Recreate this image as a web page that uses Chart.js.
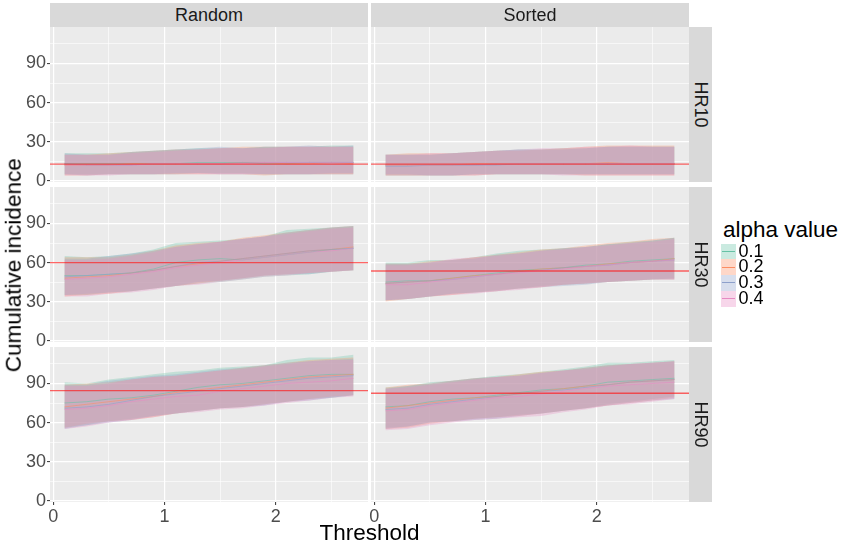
<!DOCTYPE html>
<html><head><meta charset="utf-8">
<script src="https://cdn.jsdelivr.net/npm/chart.js@4.4.1/dist/chart.umd.min.js"></script>
<style>
html,body{margin:0;padding:0;background:#fff;}
body{width:847px;height:550px;overflow:hidden;position:relative;font-family:"Liberation Sans",Arial,Helvetica,sans-serif;}
.box{position:absolute;}
.strip{position:absolute;background:#D9D9D9;color:#1A1A1A;font-size:18px;display:flex;align-items:center;justify-content:center;overflow:hidden;}
.vtxt{transform:rotate(90deg);white-space:nowrap;}
.title{position:absolute;color:#000;font-size:22.5px;white-space:nowrap;line-height:1;}
.key{position:absolute;left:721px;width:15px;height:15.8px;background:#fff;}
.keyfill{position:absolute;left:0;top:0;right:0;bottom:0;}
.keyline{position:absolute;left:1px;right:1px;top:7.4px;height:1px;}
.klab{position:absolute;left:738.5px;font-size:18px;color:#000;height:15.8px;line-height:15.8px;}
</style></head><body>
<script>
// ---------------- DATA ----------------
const thresholds = [0.1,0.3,0.5,0.7,0.9,1.1,1.3,1.5,1.7,1.9,2.1,2.3,2.5,2.7];
const alphaLabels = ['0.1','0.2','0.3','0.4'];
const colLabels = ['Random','Sorted'];
const rowLabels = ['HR10','HR30','HR90'];
const xMajor = [0,1,2];
const xMinor = [0.5,1.5,2.5];
const yMajor = [0,30,60,90];
const yMinor = [15,45,75,105];
const hlineValues = [12.8, 12.8, 60, 53.5, 84.5, 82.5]; // rand10, sort10, rand30, sort30, rand90, sort90

// Random HR10
const rand10_a1_hi  = [21,21,21,22,23,24,25,25,25,26,26,26,27,27];
const rand10_a1_mid = [13,13,13,13,13,13,14,14,14,13,13,14,14,14];
const rand10_a1_lo  = [5,5,5,5,5,5,6,6,6,5,5,5,5,5];
const rand10_a2_hi  = [20,20,21,22,23,24,24,25,26,26,26,26,26,26];
const rand10_a2_mid = [12,12,12,13,13,13,13,13,14,14,13,13,14,13];
const rand10_a2_lo  = [4,4,5,5,5,5,5,5,5,4,5,5,5,5];
const rand10_a3_hi  = [21,20,20,22,23,24,25,26,25,26,26,27,26,27];
const rand10_a3_mid = [13,12,12,12,13,13,13,13,14,14,14,14,14,14];
const rand10_a3_lo  = [5,4,5,5,5,6,6,5,5,5,5,5,6,6];
const rand10_a4_hi  = [20,20,20,21,22,23,24,25,25,25,26,26,26,26];
const rand10_a4_mid = [12,12,12,12,13,13,13,13,13,14,14,14,14,14];
const rand10_a4_lo  = [4,4,4,5,5,5,5,5,5,5,5,5,5,5];
// Sorted HR10
const sort10_a1_hi  = [20,20,20,21,22,23,24,24,25,25,26,26,26,26];
const sort10_a1_mid = [12,12,12,12,12,13,13,13,13,13,13,13,13,13];
const sort10_a1_lo  = [4,4,4,4,5,5,5,5,5,5,5,5,5,5];
const sort10_a2_hi  = [20,21,21,21,22,23,23,24,25,26,27,27,27,27];
const sort10_a2_mid = [12,12,12,12,13,13,13,13,13,13,14,13,13,13];
const sort10_a2_lo  = [4,4,4,4,4,5,5,5,5,4,4,4,4,4];
const sort10_a3_hi  = [20,20,20,21,22,23,24,24,24,25,26,26,26,26];
const sort10_a3_mid = [11,11,12,12,12,12,13,13,13,13,13,13,13,13];
const sort10_a3_lo  = [5,5,4,4,5,5,5,5,5,5,5,5,5,5];
const sort10_a4_hi  = [20,20,21,21,22,23,24,25,25,26,26,27,26,26];
const sort10_a4_mid = [12,12,12,12,12,13,13,13,13,13,13,13,13,13];
const sort10_a4_lo  = [4,4,4,4,4,5,5,5,4,4,4,4,4,4];
// Random HR30
const rand30_a1_hi  = [65,64,65,67,70,75,76,77,78,80,85,86,87,88];
const rand30_a1_mid = [50,50,51,52,55,60,62,63,62,64,66,68,70,71];
const rand30_a1_lo  = [35,35,37,38,40,42,44,45,47,49,50,51,53,54];
const rand30_a2_hi  = [64,64,64,66,69,73,75,76,79,81,83,85,87,88];
const rand30_a2_mid = [48,49,50,52,54,57,59,61,63,65,67,69,70,72];
const rand30_a2_lo  = [34,35,36,38,40,42,44,46,48,50,51,52,53,54];
const rand30_a3_hi  = [63,63,65,67,69,72,74,76,78,80,83,85,87,88];
const rand30_a3_mid = [49,50,51,52,54,57,60,61,63,65,67,69,70,71];
const rand30_a3_lo  = [35,36,37,38,40,42,45,46,48,50,51,51,53,54];
const rand30_a4_hi  = [62,62,63,65,68,72,74,76,78,80,82,84,86,87];
const rand30_a4_mid = [47,48,49,51,53,56,58,60,62,64,66,68,69,71];
const rand30_a4_lo  = [34,34,36,37,39,42,43,45,47,49,50,52,53,54];
// Sorted HR30
const sort30_a1_hi  = [60,60,62,62,64,67,69,70,71,72,74,76,77,79];
const sort30_a1_mid = [45,46,46,48,50,52,54,55,56,58,59,61,62,63];
const sort30_a1_lo  = [31,32,34,36,37,39,40,42,43,44,45,46,47,48];
const sort30_a2_hi  = [59,59,61,62,64,66,68,70,71,73,75,76,78,79];
const sort30_a2_mid = [44,45,46,48,50,51,53,55,56,57,59,60,61,63];
const sort30_a2_lo  = [30,32,34,35,37,38,40,41,43,44,45,46,47,47];
const sort30_a3_hi  = [59,59,60,62,63,66,67,69,71,72,74,75,77,79];
const sort30_a3_mid = [44,45,46,47,49,51,53,54,56,57,58,60,61,62];
const sort30_a3_lo  = [31,32,34,36,37,38,40,41,42,43,45,46,47,47];
const sort30_a4_hi  = [58,58,60,63,64,65,67,69,70,72,73,75,76,78];
const sort30_a4_mid = [43,43,45,47,49,51,52,54,55,57,58,60,61,62];
const sort30_a4_lo  = [31,32,34,35,36,38,39,41,43,44,45,46,47,47];
// Random HR90
const rand90_a1_hi  = [91,90,93,95,97,99,100,102,103,104,108,110,110,112];
const rand90_a1_mid = [75,76,78,79,81,84,87,89,90,92,94,96,97,97];
const rand90_a1_lo  = [56,58,61,63,65,67,69,71,72,74,76,78,79,81];
const rand90_a2_hi  = [89,90,91,93,95,96,98,100,102,104,106,108,109,110];
const rand90_a2_mid = [72,74,76,78,80,83,85,87,89,91,93,95,96,97];
const rand90_a2_lo  = [56,59,61,62,64,67,69,71,72,74,76,78,80,81];
const rand90_a3_hi  = [89,89,92,94,96,97,99,101,102,104,106,107,108,109];
const rand90_a3_mid = [71,72,74,77,80,82,84,86,88,90,92,94,95,96];
const rand90_a3_lo  = [55,58,60,62,65,67,69,71,72,73,76,77,79,81];
const rand90_a4_hi  = [88,88,90,93,95,96,98,100,101,103,105,107,108,108];
const rand90_a4_mid = [70,71,73,76,78,80,81,84,86,88,90,91,92,94];
const rand90_a4_lo  = [55,57,60,62,64,67,68,70,71,73,75,77,79,80];
// Sorted HR90
const sort90_a1_hi  = [87,88,91,92,94,96,97,99,101,103,106,106,107,108];
const sort90_a1_mid = [72,73,76,78,79,81,83,85,86,88,91,92,93,94];
const sort90_a1_lo  = [56,57,60,61,63,64,66,67,69,71,74,76,78,80];
const sort90_a2_hi  = [87,89,90,92,94,95,97,99,100,102,104,105,106,107];
const sort90_a2_mid = [71,73,75,77,79,80,82,84,86,88,89,91,92,93];
const sort90_a2_lo  = [55,56,59,61,63,64,65,67,69,71,73,75,77,79];
const sort90_a3_hi  = [86,88,90,92,94,95,96,98,100,102,104,105,106,107];
const sort90_a3_mid = [70,71,74,76,78,80,82,84,85,87,89,91,92,93];
const sort90_a3_lo  = [55,57,60,61,62,63,65,67,69,71,73,75,77,78];
const sort90_a4_hi  = [86,87,89,91,93,95,96,98,100,101,103,105,106,107];
const sort90_a4_mid = [69,70,73,75,77,79,80,82,84,86,88,89,90,91];
const sort90_a4_lo  = [54,55,58,60,62,63,64,65,68,70,73,74,76,78];

// ---------------- ASSEMBLY ----------------
const seriesColors = ['#66C2A5','#FC8D62','#8DA0CB','#E78AC3'];
const panelData = [
  [ // row HR10
    [[rand10_a1_lo,rand10_a1_mid,rand10_a1_hi],[rand10_a2_lo,rand10_a2_mid,rand10_a2_hi],[rand10_a3_lo,rand10_a3_mid,rand10_a3_hi],[rand10_a4_lo,rand10_a4_mid,rand10_a4_hi]],
    [[sort10_a1_lo,sort10_a1_mid,sort10_a1_hi],[sort10_a2_lo,sort10_a2_mid,sort10_a2_hi],[sort10_a3_lo,sort10_a3_mid,sort10_a3_hi],[sort10_a4_lo,sort10_a4_mid,sort10_a4_hi]]
  ],
  [ // row HR30
    [[rand30_a1_lo,rand30_a1_mid,rand30_a1_hi],[rand30_a2_lo,rand30_a2_mid,rand30_a2_hi],[rand30_a3_lo,rand30_a3_mid,rand30_a3_hi],[rand30_a4_lo,rand30_a4_mid,rand30_a4_hi]],
    [[sort30_a1_lo,sort30_a1_mid,sort30_a1_hi],[sort30_a2_lo,sort30_a2_mid,sort30_a2_hi],[sort30_a3_lo,sort30_a3_mid,sort30_a3_hi],[sort30_a4_lo,sort30_a4_mid,sort30_a4_hi]]
  ],
  [ // row HR90
    [[rand90_a1_lo,rand90_a1_mid,rand90_a1_hi],[rand90_a2_lo,rand90_a2_mid,rand90_a2_hi],[rand90_a3_lo,rand90_a3_mid,rand90_a3_hi],[rand90_a4_lo,rand90_a4_mid,rand90_a4_hi]],
    [[sort90_a1_lo,sort90_a1_mid,sort90_a1_hi],[sort90_a2_lo,sort90_a2_mid,sort90_a2_hi],[sort90_a3_lo,sort90_a3_mid,sort90_a3_hi],[sort90_a4_lo,sort90_a4_mid,sort90_a4_hi]]
  ]
];

function rgba(hex, a){
  const n = parseInt(hex.slice(1),16);
  return 'rgba('+((n>>16)&255)+','+((n>>8)&255)+','+(n&255)+','+a+')';
}
const FONT = '"Liberation Sans", Arial, Helvetica, sans-serif';
const X_MIN = -0.03, X_MAX = 2.83, Y_MIN = -1, Y_MAX = 118;
const PANEL_X = [50, 371], PANEL_W = 318;
const PANEL_Y = [27, 187, 347], PANEL_H = 155;
const M = 12, Y_AXIS_W = 50, X_AXIS_H = 26;

const bgPlugin = {
  id:'panelBg',
  beforeDraw(chart){
    const {ctx, chartArea:a} = chart;
    ctx.save(); ctx.fillStyle = '#EBEBEB';
    ctx.fillRect(a.left, a.top, a.right-a.left, a.bottom-a.top);
    ctx.restore();
  }
};

function pts(arr){ return thresholds.map((x,i)=>({x:x, y:arr[i]})); }

function addPanel(r, c){
  const yW = c===0 ? Y_AXIS_W : 0;
  const xH = r===2 ? X_AXIS_H : 0;
  const div = document.createElement('div');
  div.className = 'box';
  div.style.left = (PANEL_X[c] - M - yW) + 'px';
  div.style.top = (PANEL_Y[r] - M) + 'px';
  div.style.width = (PANEL_W + 2*M + yW) + 'px';
  div.style.height = (PANEL_H + 2*M + xH) + 'px';
  const cv = document.createElement('canvas');
  div.appendChild(cv);
  document.body.appendChild(div);

  const series = panelData[r][c];
  const hv = hlineValues[r*2 + c];
  const datasets = [];
  // reference line on top
  datasets.push({data:[{x:X_MIN,y:hv},{x:X_MAX,y:hv}], borderColor:'rgba(255,20,20,0.65)', borderWidth:1.3, pointRadius:0, fill:false, order:0});
  // mean lines
  series.forEach((s,i)=>{
    datasets.push({data:pts(s[1]), borderColor:rgba(seriesColors[i],0.55), borderWidth:1, pointRadius:0, fill:false, order:1+(3-i)});
  });
  // ribbons
  series.forEach((s,i)=>{
    datasets.push({data:pts(s[2]), borderWidth:0, borderColor:'rgba(0,0,0,0)', pointRadius:0, fill:'+1', backgroundColor:rgba(seriesColors[i],0.3), order:10+(3-i)});
    datasets.push({data:pts(s[0]), borderWidth:0, borderColor:'rgba(0,0,0,0)', pointRadius:0, fill:false, order:10+(3-i)});
  });

  const isMajX = v => xMajor.some(m=>Math.abs(m-v)<1e-9);
  const isMajY = v => yMajor.some(m=>Math.abs(m-v)<1e-9);

  new Chart(cv, {
    type:'line',
    data:{datasets},
    plugins:[bgPlugin],
    options:{
      responsive:true, maintainAspectRatio:false, animation:false,
      layout:{padding:{left:M,right:M,top:M,bottom:M}},
      plugins:{legend:{display:false}, tooltip:{enabled:false}},
      elements:{line:{tension:0}},
      scales:{
        x:{
          type:'linear', min:X_MIN, max:X_MAX,
          afterBuildTicks: s => { s.ticks = xMajor.concat(xMinor).sort((a,b)=>a-b).map(v=>({value:v})); },
          afterFit: s => { s.height = xH; },
          border:{display:false},
          grid:{color:'#FFFFFF', lineWidth: ctx => isMajX(ctx.tick.value) ? 1.2 : 0.6,
                drawTicks: r===2, tickLength:3, tickWidth:1,
                tickColor: ctx => isMajX(ctx.tick.value) ? '#333333' : 'rgba(0,0,0,0)'},
          ticks:{display: r===2, autoSkip:false, maxRotation:0, padding:1, color:'#4D4D4D',
                 font:{size:18, family:FONT},
                 callback: v => isMajX(v) ? String(v) : ''}
        },
        y:{
          type:'linear', min:Y_MIN, max:Y_MAX,
          afterBuildTicks: s => { s.ticks = yMajor.concat(yMinor).sort((a,b)=>a-b).map(v=>({value:v})); },
          afterFit: s => { s.width = yW; },
          border:{display:false},
          grid:{color:'#FFFFFF', lineWidth: ctx => isMajY(ctx.tick.value) ? 1.2 : 0.6,
                drawTicks: c===0, tickLength:3, tickWidth:1,
                tickColor: ctx => isMajY(ctx.tick.value) ? '#333333' : 'rgba(0,0,0,0)'},
          ticks:{display: c===0, autoSkip:false, padding:1, color:'#4D4D4D',
                 font:{size:18, family:FONT},
                 callback: v => isMajY(v) ? String(v) : ''}
        }
      }
    }
  });
}

for (let r=0;r<3;r++) for (let c=0;c<2;c++) addPanel(r,c);

// strips
colLabels.forEach((t,c)=>{
  const d = document.createElement('div'); d.className='strip';
  d.style.left = PANEL_X[c]+'px'; d.style.top='3px'; d.style.width=PANEL_W+'px'; d.style.height='24px';
  d.textContent = t; document.body.appendChild(d);
});
rowLabels.forEach((t,r)=>{
  const d = document.createElement('div'); d.className='strip';
  d.style.left = (PANEL_X[1]+PANEL_W)+'px'; d.style.top=PANEL_Y[r]+'px'; d.style.width='23px'; d.style.height=PANEL_H+'px';
  const s = document.createElement('span'); s.className='vtxt'; s.textContent=t; d.appendChild(s);
  document.body.appendChild(d);
});

// axis titles
const xt = document.createElement('div'); xt.className='title';
xt.textContent='Threshold'; xt.style.left='269.5px'; xt.style.width='200px'; xt.style.textAlign='center'; xt.style.top='522px';
document.body.appendChild(xt);
const yt = document.createElement('div'); yt.className='title';
yt.textContent='Cumulative incidence'; yt.style.width='300px'; yt.style.textAlign='center';
yt.style.left=(14-150)+'px'; yt.style.top=(264.5-11)+'px'; yt.style.transform='rotate(-90deg)';
document.body.appendChild(yt);

// legend
const lt = document.createElement('div'); lt.className='title';
lt.textContent='alpha value'; lt.style.left='723px'; lt.style.top='218.5px';
document.body.appendChild(lt);
alphaLabels.forEach((lab,i)=>{
  const top = 243.5 + i*15.8;
  const k = document.createElement('div'); k.className='key'; k.style.top=top+'px';
  const f = document.createElement('div'); f.className='keyfill'; f.style.background=rgba(seriesColors[i],0.35);
  const l = document.createElement('div'); l.className='keyline'; l.style.background=seriesColors[i];
  k.appendChild(f); k.appendChild(l); document.body.appendChild(k);
  const t = document.createElement('div'); t.className='klab'; t.style.top=top+'px'; t.textContent=lab;
  document.body.appendChild(t);
});
</script>
</body></html>
